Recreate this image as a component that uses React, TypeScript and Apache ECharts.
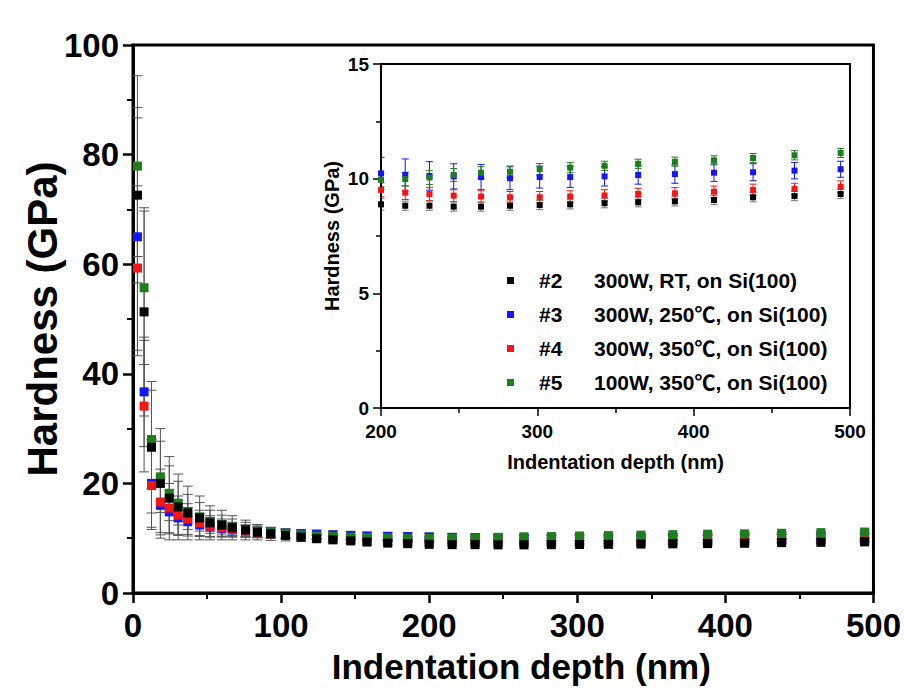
import React, { useEffect, useRef } from "react";
import * as echarts from "echarts";

// Indentation depth (nm) shared by all samples
const depth = [3, 7.5, 12.5, 18.5, 24.5, 30.5, 37, 45, 52, 60, 67, 76, 84, 93, 103, 113.5, 124, 135, 147, 158, 172, 185.5, 200, 215.5, 231, 246.5, 264, 282.5, 301.5, 321, 343, 364.5, 388, 413, 438, 464.5, 494];

const names = ["#2", "#3", "#4", "#5"];
const descriptions = ["300W, RT, on Si(100)", "300W, 250℃, on Si(100)", "300W, 350℃, on Si(100)", "100W, 350℃, on Si(100)"];
const colors = ["#000000", "#1616f2", "#f21616", "#1f7d1f"];

// Hardness (GPa)
const hardness2 = [72.6, 51.3, 26.6, 20.0, 17.3, 15.7, 14.6, 13.7, 12.8, 12.4, 11.9, 11.5, 11.1, 10.8, 10.5, 10.2, 9.9, 9.7, 9.5, 9.3, 9.1, 9.0, 8.88, 8.82, 8.82, 8.78, 8.78, 8.82, 8.85, 8.88, 8.93, 8.97, 9.01, 9.07, 9.19, 9.24, 9.33];
const hardness3 = [65.0, 36.7, 20.0, 16.0, 14.8, 13.7, 13.0, 12.4, 12.0, 11.7, 11.5, 11.3, 11.1, 11.0, 10.9, 10.8, 10.7, 10.6, 10.5, 10.4, 10.35, 10.3, 10.23, 10.16, 10.12, 10.1, 10.07, 10.02, 10.07, 10.07, 10.1, 10.16, 10.2, 10.26, 10.28, 10.35, 10.41];
const hardness4 = [59.3, 34.1, 19.6, 16.6, 15.5, 14.2, 13.5, 12.8, 12.2, 11.9, 11.6, 11.3, 11.0, 10.8, 10.6, 10.4, 10.2, 10.0, 9.9, 9.8, 9.7, 9.6, 9.51, 9.39, 9.33, 9.26, 9.22, 9.19, 9.19, 9.22, 9.27, 9.33, 9.36, 9.43, 9.51, 9.55, 9.65];
const hardness5 = [77.9, 55.7, 28.0, 21.2, 18.2, 16.4, 14.8, 13.9, 13.0, 12.4, 12.0, 11.6, 11.3, 11.0, 10.8, 10.6, 10.4, 10.3, 10.2, 10.1, 10.05, 10.0, 9.95, 9.98, 10.05, 10.16, 10.26, 10.3, 10.41, 10.48, 10.56, 10.65, 10.74, 10.8, 10.9, 11.02, 11.12];

// Standard deviation (GPa)
const err2 = [16, 19, 12, 10, 7.6, 6, 4.9, 4, 3.1, 2.7, 2.2, 1.8, 1.4, 1.2, 1.0, 0.8, 0.6, 0.5, 0.45, 0.4, 0.35, 0.3, 0.25, 0.2, 0.2, 0.2, 0.2, 0.2, 0.2, 0.2, 0.2, 0.2, 0.2, 0.2, 0.2, 0.2, 0.2];
const err3 = [21.7, 10, 8, 5, 4, 3.2, 2.6, 2.1, 1.8, 1.5, 1.3, 1.1, 1.0, 0.9, 0.85, 0.8, 0.8, 0.75, 0.75, 0.7, 0.7, 0.7, 0.7, 0.7, 0.62, 0.55, 0.55, 0.5, 0.48, 0.45, 0.42, 0.4, 0.4, 0.38, 0.37, 0.36, 0.35];
const err4 = [15, 12, 8, 6, 4.5, 3.5, 2.8, 2.3, 1.9, 1.6, 1.3, 1.1, 0.9, 0.8, 0.7, 0.6, 0.5, 0.45, 0.4, 0.35, 0.3, 0.3, 0.3, 0.3, 0.28, 0.26, 0.25, 0.25, 0.25, 0.25, 0.25, 0.25, 0.25, 0.25, 0.25, 0.25, 0.25];
const err5 = [16.5, 14, 9, 6.5, 5, 4, 3.2, 2.6, 2.1, 1.8, 1.5, 1.3, 1.1, 0.9, 0.8, 0.7, 0.6, 0.5, 0.45, 0.4, 0.35, 0.3, 0.3, 0.3, 0.3, 0.28, 0.26, 0.25, 0.25, 0.22, 0.2, 0.2, 0.2, 0.2, 0.2, 0.2, 0.2];

const hardness = [hardness2, hardness3, hardness4, hardness5];
const errors = [err2, err3, err4, err5];
const insetMinDepth = 195;

const FONT = "'Liberation Sans', Arial, 'Noto Sans CJK SC', sans-serif";

function errorBarRenderer(capHalf: number) {
  return (params: any, api: any) => {
    const x = api.value(0);
    const lo = api.coord([x, api.value(1)]);
    const hi = api.coord([x, api.value(2)]);
    const style = { stroke: api.visual("color"), lineWidth: 1 };
    return {
      type: "group",
      children: [
        { type: "line", shape: { x1: lo[0], y1: lo[1], x2: hi[0], y2: hi[1] }, style },
        { type: "line", shape: { x1: lo[0] - capHalf, y1: lo[1], x2: lo[0] + capHalf, y2: lo[1] }, style },
        { type: "line", shape: { x1: hi[0] - capHalf, y1: hi[1], x2: hi[0] + capHalf, y2: hi[1] }, style },
      ],
    };
  };
}

export default function App() {
  const ref = useRef<HTMLDivElement>(null);
  useEffect(() => {
    document.body.style.margin = "0";
    const chart = echarts.init(ref.current!, null, { renderer: "svg" });
    const drawOrder = [1, 2, 3, 0];

    const series: any[] = [];
    drawOrder.forEach((i) => {
      series.push({
        type: "custom",
        name: "err-main-" + names[i],
        xAxisIndex: 0,
        yAxisIndex: 0,
        clip: true,
        itemStyle: { color: "#555555" },
        renderItem: errorBarRenderer(5),
        encode: { x: 0, y: [1, 2] },
        data: depth.map((d, k) => [d, hardness[i][k] - errors[i][k], hardness[i][k] + errors[i][k]]),
        z: 1,
      });
    });
    drawOrder.forEach((i) => {
      series.push({
        type: "scatter",
        name: names[i],
        xAxisIndex: 0,
        yAxisIndex: 0,
        symbol: "rect",
        symbolSize: 9,
        itemStyle: { color: colors[i], opacity: 1 },
        data: depth.map((d, k) => [d, hardness[i][k]]),
        z: 2,
      });
    });
    drawOrder.forEach((i) => {
      series.push({
        type: "custom",
        name: "err-inset-" + names[i],
        xAxisIndex: 1,
        yAxisIndex: 1,
        clip: true,
        itemStyle: { color: i === 0 ? "#777777" : colors[i], opacity: 0.55 },
        renderItem: errorBarRenderer(3.5),
        encode: { x: 0, y: [1, 2] },
        data: depth
          .map((d, k) => [d, hardness[i][k] - errors[i][k], hardness[i][k] + errors[i][k]])
          .filter((p) => p[0] >= insetMinDepth),
        z: 5,
      });
    });
    drawOrder.forEach((i) => {
      series.push({
        type: "scatter",
        name: names[i],
        xAxisIndex: 1,
        yAxisIndex: 1,
        symbol: "rect",
        symbolSize: 6,
        clip: true,
        itemStyle: { color: colors[i], opacity: 1 },
        data: depth.map((d, k) => [d, hardness[i][k]]).filter((p) => p[0] >= insetMinDepth),
        z: 6,
      });
    });

    const mainAxisCommon = {
      axisLine: { show: true, onZero: false, lineStyle: { color: "#000", width: 3 } },
      axisTick: { show: true, inside: false, length: 10, lineStyle: { color: "#000", width: 2.5 } },
      minorTick: { show: true, splitNumber: 2, length: 6, lineStyle: { color: "#000", width: 2 } },
      splitLine: { show: false },
      axisLabel: { color: "#000", fontFamily: FONT, fontWeight: "bold", fontSize: 33 },
      nameMoveOverlap: false,
      nameTextStyle: { color: "#000", fontFamily: FONT, fontWeight: "bold", fontSize: 35 },
    };
    const insetAxisCommon = {
      axisLine: { show: true, onZero: false, lineStyle: { color: "#000", width: 2 } },
      axisTick: { show: true, inside: false, length: 8, lineStyle: { color: "#000", width: 1.5 } },
      minorTick: { show: true, splitNumber: 2, length: 5, lineStyle: { color: "#000", width: 1.5 } },
      splitLine: { show: false },
      axisLabel: { color: "#000", fontFamily: FONT, fontWeight: "bold", fontSize: 19 },
      nameMoveOverlap: false,
      nameTextStyle: { color: "#000", fontFamily: FONT, fontWeight: "bold", fontSize: 20 },
    };

    chart.setOption({
      animation: false,
      backgroundColor: "#ffffff",
      grid: [
        { left: 133, top: 45, width: 744, height: 548, show: true, borderColor: "#000", borderWidth: 3, backgroundColor: "#fff", containLabel: false },
        { left: 381, top: 64, width: 469, height: 344, show: true, borderColor: "#000", borderWidth: 2, backgroundColor: "#fff", containLabel: false, z: 4 },
      ],
      xAxis: [
        {
          ...mainAxisCommon,
          gridIndex: 0,
          type: "value",
          min: 0,
          max: 500,
          interval: 100,
          name: "Indentation depth (nm)",
          nameLocation: "middle",
          nameGap: 56,
          nameTextStyle: { ...mainAxisCommon.nameTextStyle, padding: [0, 0, 0, 36] },
          axisLabel: { ...mainAxisCommon.axisLabel, margin: 16 },
        },
        {
          ...insetAxisCommon,
          gridIndex: 1,
          type: "value",
          min: 200,
          max: 500,
          interval: 100,
          name: "Indentation depth (nm)",
          nameLocation: "middle",
          nameGap: 44,
          axisLabel: { ...insetAxisCommon.axisLabel, margin: 14 },
          z: 5,
        },
      ],
      yAxis: [
        {
          ...mainAxisCommon,
          gridIndex: 0,
          type: "value",
          min: 0,
          max: 100,
          interval: 20,
          name: "Hardness (GPa)",
          nameLocation: "middle",
          nameGap: 70,
          nameTextStyle: { ...mainAxisCommon.nameTextStyle, fontSize: 42 },
          axisLabel: { ...mainAxisCommon.axisLabel, margin: 14 },
        },
        {
          ...insetAxisCommon,
          gridIndex: 1,
          type: "value",
          min: 0,
          max: 15,
          interval: 5,
          name: "Hardness (GPa)",
          nameLocation: "middle",
          nameGap: 39,
          axisLabel: { ...insetAxisCommon.axisLabel, margin: 12 },
          z: 5,
        },
      ],
      legend: {
        data: names.map((n) => ({ name: n, icon: "rect" })),
        orient: "vertical",
        left: 502,
        top: 265,
        itemWidth: 7,
        itemHeight: 7,
        itemGap: 13,
        z: 10,
        formatter: (name: string) => `{a|${name}}{b|${descriptions[names.indexOf(name)]}}`,
        textStyle: {
          color: "#000",
          fontFamily: FONT,
          fontWeight: "bold",
          fontSize: 21,
          rich: {
            a: { width: 55, padding: [0, 0, 0, 20], fontFamily: FONT, fontWeight: "bold", fontSize: 21, lineHeight: 24, color: "#000" },
            b: { fontFamily: FONT, fontWeight: "bold", fontSize: 21, lineHeight: 24, color: "#000" },
          },
        },
      },
      series,
    });
    return () => chart.dispose();
  }, []);
  return <div ref={ref} style={{ width: 904, height: 691 }} />;
}
